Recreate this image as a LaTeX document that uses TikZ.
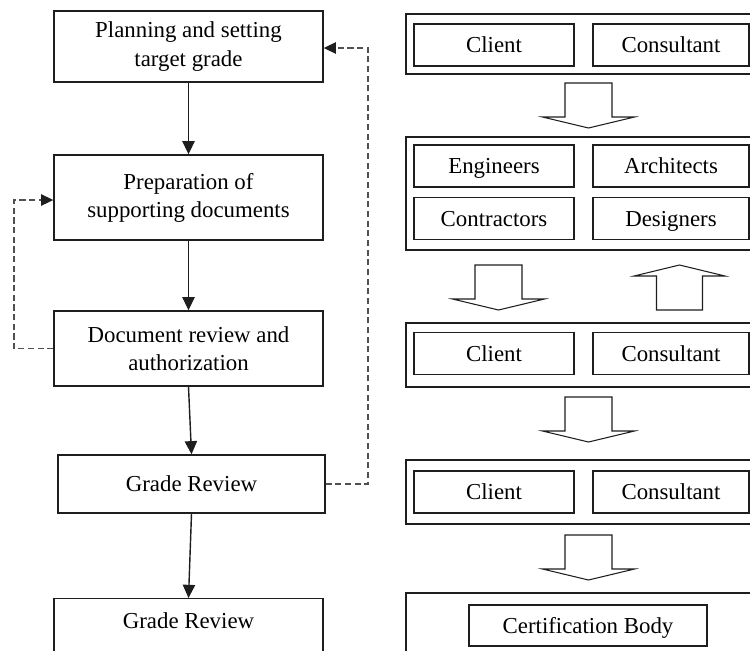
\documentclass[tikz,border=0pt]{standalone}
\usepackage{fontspec}
\setmainfont{Liberation Serif}
\usepackage{tikz}
\usetikzlibrary{positioning, calc, arrows.meta}
\definecolor{flowDark}{RGB}{30, 30, 30}
\definecolor{flowGray}{RGB}{80, 80, 80}

\begin{document}
\begin{tikzpicture}[x=0.02cm, y=-0.02cm,
    flowbox/.style={draw=flowDark, line width=0.8pt, align=center, inner sep=0pt,
      font=\fontsize{13}{16}\selectfont},
    teambox/.style={draw=flowDark, line width=0.8pt, inner sep=0pt, minimum height=0.84cm,
      text height=8.9pt, text depth=0pt, font=\fontsize{13}{16}\selectfont},
    groupbox/.style={draw=flowDark, line width=0.8pt, inner sep=0pt, minimum width=7.28cm},
    flow/.style={-{Triangle[length=7.5pt, width=7pt]}, line width=0.8pt, flowDark},
    backflow/.style={-{Triangle[length=7pt, width=6.5pt, color=flowDark]},
      dash pattern=on 3.5pt off 2pt, line width=0.8pt, flowGray},
    fatarrow/.style={draw=flowDark, line width=0.6pt, fill=white}]
  \useasboundingbox (0,0) rectangle (750,650);
  \clip (0,0) rectangle (750,650);

  % Process steps
  \node[flowbox, minimum width=5.38cm, minimum height=1.42cm] (plan) at (188.5,46.5) {Planning and setting\\target grade};
  \node[flowbox, minimum width=5.38cm, minimum height=1.70cm] (prep) at (188.5,197.5) {Preparation of\\supporting documents};
  \node[flowbox, minimum width=5.38cm, minimum height=1.50cm] (docrev) at (188.5,348.5) {Document review and\\authorization};
  \node[flowbox, minimum width=5.34cm, minimum height=1.16cm] (grade1) at (191.5,484) {Grade Review};
  \node[flowbox, minimum width=5.38cm, anchor=north, inner ysep=8pt, text depth=30pt] (grade2) at (188.5,598) {Grade Review};

  % Forward flow
  \draw[flow] (plan) -- (prep);
  \draw[flow] (prep) -- (docrev);
  \draw[flow] (docrev.south) -- (grade1.north);
  \draw[flow] (grade1.south) -- (grade2.north);

  % Feedback loops
  \coordinate (rturn) at (368,48);
  \coordinate (lturn) at (14,200);
  \draw[backflow] (grade1.east) -| (rturn) -- (rturn -| plan.east);
  \draw[backflow] (docrev.west) -| (lturn) -- (lturn -| prep.west);

  % Groups
  \node[groupbox, minimum height=1.20cm] (group1) at (588,44) {};
  \node[groupbox, minimum height=2.26cm] (group2) at (588,193.5) {};
  \node[groupbox, minimum height=1.28cm] (group3) at (588,355) {};
  \node[groupbox, minimum height=1.28cm] (group4) at (588,492) {};
  \node[groupbox, minimum height=1.74cm] (group5) at (588,636.5) {};

  % Parties
  \foreach \y/\n in {45/1, 353.5/2, 492/3} {
    \node[teambox, minimum width=3.2cm] (client\n) at (494,\y) {Client};
    \node[teambox, minimum width=3.12cm] (consultant\n) at (671,\y) {Consultant};
  }
  \node[teambox, minimum width=3.2cm] (engineers) at (494,166) {Engineers};
  \node[teambox, minimum width=3.12cm] (architects) at (671,166) {Architects};
  \node[teambox, minimum width=3.2cm] (contractors) at (494,218.5) {Contractors};
  \node[teambox, minimum width=3.12cm] (designers) at (671,218.5) {Designers};
  \node[teambox, minimum width=4.76cm, minimum height=0.82cm] (certbody) at (588,625.5) {Certification Body};

  % Block arrows
  \foreach \cx/\ty in {588.5/83, 498.5/265, 588.5/397, 588.5/535}
    \draw[fatarrow] (\cx-23.5,\ty) -- (\cx+23.5,\ty) -- (\cx+23.5,\ty+34) -- (\cx+46,\ty+34)
      -- (\cx,\ty+45) -- (\cx-46,\ty+34) -- (\cx-23.5,\ty+34) -- cycle;
  \draw[fatarrow] (656.5,310) -- (702.5,310) -- (702.5,276) -- (725,276) -- (679.5,265)
    -- (634,276) -- (656.5,276) -- cycle;
\end{tikzpicture}
\end{document}
